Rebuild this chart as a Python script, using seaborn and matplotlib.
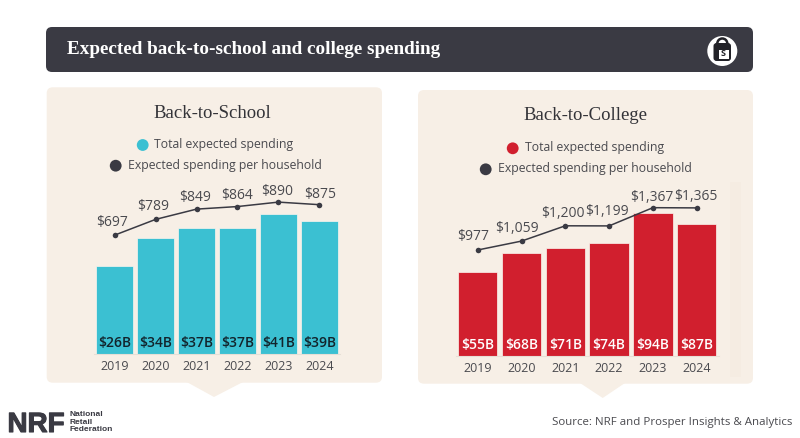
import matplotlib
matplotlib.use("Agg")
import matplotlib.pyplot as plt
from matplotlib.patches import Circle, FancyBboxPatch, Polygon, Rectangle
import matplotlib.patheffects as pe
import pandas as pd
import seaborn as sns

# -----------------------------------
# DATA
# -----------------------------------
years = ["2019", "2020", "2021", "2022", "2023", "2024"]

school_total = [26, 34, 37, 37, 41, 39]
school_household = [697, 789, 849, 864, 890, 875]

college_total = [55, 68, 71, 74, 94, 87]
college_household = [977, 1059, 1200, 1199, 1367, 1365]

# -----------------------------------
# STYLE
# -----------------------------------
sns.set_theme(style="white")
plt.rcParams["font.family"] = ["Open Sans", "DejaVu Sans"]

W, H = 800, 438
CARD = "#f7efe6"
DARK = "#3a3a43"
TEXT = "#4a4a4f"
SERIF = "Liberation Serif"

fig = plt.figure(figsize=(W / 100, H / 100), dpi=100, facecolor="white")

# full figure layer in pixel coordinates, for the cards and header
bg = fig.add_axes([0, 0, 1, 1])
bg.set_xlim(0, W)
bg.set_ylim(H, 0)
bg.axis("off")


def card(x0, y0, x1, y1, color, r=6):
    bg.add_patch(FancyBboxPatch(
        (x0 + r, y0 + r), x1 - x0 - 2 * r, y1 - y0 - 2 * r,
        boxstyle=f"round,pad={r},rounding_size={r}",
        fc=color, ec="none"
    ))


# -----------------------------------
# HEADER
# -----------------------------------
card(46, 27, 753, 72, DARK)
bg.text(67, 49.5, "Expected back-to-school and college spending",
        color="white", fontsize=13.75, fontweight="bold",
        family=SERIF, va="center", ha="left")

# backpack icon
bg.add_patch(Circle((722.3, 51), 15, fc="white", ec="none"))
bg.add_patch(Circle((722.3, 43.5), 5, fc="none", ec="#222228", lw=1.8))
card(713.5, 43, 731, 61, "#222228", r=3)
bg.add_patch(Rectangle((718.5, 49.5), 10, 9, fc="white", ec="none"))
bg.text(723.5, 54, "S", color="#222228", fontsize=6.5, fontweight="bold",
        ha="center", va="center")

# -----------------------------------
# CARDS
# -----------------------------------
card(46.7, 87.3, 382, 382.7, CARD)
bg.add_patch(Polygon([(186.7, 382), (243, 382), (214, 397)], fc=CARD, ec="none"))

card(418, 90, 753, 383.7, CARD)
bg.add_patch(Polygon([(580, 383), (625, 383), (602.7, 398)], fc=CARD, ec="none"))
bg.add_patch(Rectangle((730, 182), 11, 195, fc="#f5ece2", ec="none"))

bg.text(212.3, 113.5, "Back-to-School", family=SERIF, fontsize=13.5,
        color="#333338", ha="center", va="center")
bg.text(585, 115.5, "Back-to-College", family=SERIF, fontsize=13.5,
        color="#333338", ha="center", va="center")

# -----------------------------------
# LEGENDS
# -----------------------------------
legend_rows = [
    (142.7, 145, 154.3, "#3bc0d2", "Total expected spending"),
    (115.7, 165.7, 127.7, DARK, "Expected spending per household"),
    (512.7, 148.3, 525, "#d11f2e", "Total expected spending"),
    (485.7, 169.3, 498, DARK, "Expected spending per household"),
]
for cx, cy, tx, color, label in legend_rows:
    bg.add_patch(Circle((cx, cy), 5.9, fc=color, ec="none"))
    bg.text(tx, cy - 0.5, label, color=TEXT, fontsize=8.85, ha="left", va="center")


# -----------------------------------
# CHART PANELS
# -----------------------------------
def panel(left, right, bottom, top, total, household, total_max, line_max,
          bar_color, bar_label_color, bar_label_y, tick_pad, money_offsets):
    ax = fig.add_axes([left / W, 1 - bottom / H,
                       (right - left) / W, (bottom - top) / H])
    ax.patch.set_visible(False)

    df = pd.DataFrame({"year": years, "total": total, "household": household})

    sns.barplot(data=df, x="year", y="total", color=bar_color, saturation=1,
                width=0.9, ax=ax, edgecolor="#fbf5ee", linewidth=0.5)
    ax.set_xlim(-0.5, 5.5)
    ax.set_ylim(0, total_max)
    ax.set_xlabel("")
    ax.set_ylabel("")
    ax.set_yticks([])
    ax.tick_params(axis="x", length=0, pad=tick_pad, labelsize=9, labelcolor=TEXT)
    sns.despine(ax=ax, left=True)
    ax.spines["bottom"].set_color("#e6dfd6")
    ax.spines["bottom"].set_linewidth(0.8)

    for i, value in enumerate(total):
        ax.annotate(f"${value}B", (i, 0), xytext=(0, bar_label_y),
                    textcoords="offset pixels", color=bar_label_color,
                    fontsize=10, fontweight="semibold",
                    ha="center", va="center")

    line_ax = ax.twinx()
    line_ax.patch.set_visible(False)
    sns.lineplot(x=list(range(len(years))), y=household, color=DARK,
                 linewidth=1.1, marker="o", markersize=4, markeredgewidth=0,
                 ax=line_ax)
    line_ax.set_ylim(0, line_max)
    line_ax.set_yticks([])
    line_ax.set_ylabel("")
    sns.despine(ax=line_ax, left=True, right=True, top=True, bottom=True)

    for i, value in enumerate(household):
        dx, dy = money_offsets[i]
        line_ax.annotate(f"${value:,}", (i, value), xytext=(dx, dy),
                         textcoords="offset pixels", color=TEXT, fontsize=10,
                         ha="center", va="center")


panel(94.25, 339.75, 354.3, 190, school_total, school_household,
      164.3 / 3.41, 164.3 / 0.171, "#3bc0d2", "#12242c", 11.5, 4,
      [(-2.7, 13), (-2.7, 13), (-1, 12), (-0.6, 10.6), (-1.3, 10.3), (0.7, 10.6)])

panel(455.8, 718.6, 356, 190, college_total, college_household,
      166 / 1.521, 166 / 0.1085, "#d11f2e", "white", 11, 4.5,
      [(-4.7, 13), (-4.6, 13), (-2, 12), (-2, 14), (-1, 10), (-0.7, 11.7)])

# -----------------------------------
# FOOTER
# -----------------------------------
bg.text(7.5, 432, "NRF", family="Liberation Sans", fontweight="bold",
        fontsize=20, color=DARK, ha="left", va="baseline",
        path_effects=[pe.withStroke(linewidth=0.8, foreground=DARK)])
for y, word in zip([415, 422.3, 429.8], ["National", "Retail", "Federation"]):
    bg.text(69.3, y, word, family="Liberation Sans", fontweight="bold",
            fontsize=6, color=DARK, ha="left", va="center")

bg.text(792, 422, "Source: NRF and Prosper Insights & Analytics",
        color=TEXT, fontsize=8.25, ha="right", va="center")

fig.savefig("out.png", dpi=100)
